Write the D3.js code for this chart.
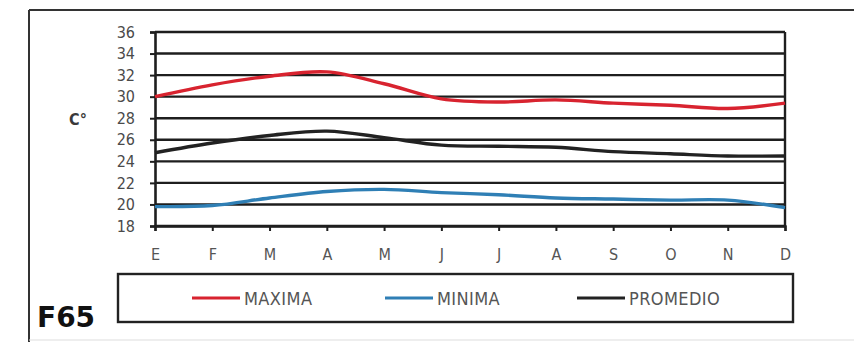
<!DOCTYPE html>
<html><head><meta charset="utf-8">
<script src="https://cdn.jsdelivr.net/npm/d3@7/dist/d3.min.js"></script>
<style>body{margin:0;background:#fff}svg{display:block}</style>
</head><body>
<svg id="c" width="854" height="342"></svg>
<script>
const months = ["E","F","M","A","M","J","J","A","S","O","N","D"];
const maxima = [30.0, 31.1, 31.9, 32.3, 31.2, 29.8, 29.5, 29.7, 29.4, 29.2, 28.9, 29.4];
const minima = [19.8, 19.9, 20.6, 21.2, 21.4, 21.1, 20.9, 20.6, 20.5, 20.4, 20.4, 19.7];
const promedio = [24.8, 25.7, 26.4, 26.8, 26.2, 25.5, 25.4, 25.3, 24.9, 24.7, 24.5, 24.5];
const yTicks = [18,20,22,24,26,28,30,32,34,36];
const seriesNames = ["MAXIMA","MINIMA","PROMEDIO"];
const seriesColors = ["#d8232f","#2f7fb5","#222222"];

const svg = d3.select("#c");
const font = "'DejaVu Sans Condensed','DejaVu Sans',sans-serif";
// outer frame
svg.append("line").attr("x1",29).attr("x2",854).attr("y1",10).attr("y2",10).attr("stroke","#333").attr("stroke-width",2);
svg.append("line").attr("x1",29).attr("x2",29).attr("y1",10).attr("y2",342).attr("stroke","#333").attr("stroke-width",2);
svg.append("line").attr("x1",29).attr("x2",854).attr("y1",340).attr("y2",340).attr("stroke","#ddd").attr("stroke-width",1);

const L=155, R=785, T=32, B=226;
const x = d3.scalePoint().domain(d3.range(12)).range([L,R]);
const y = d3.scaleLinear().domain([18,36]).range([B,T]);

// gridlines
svg.append("g").selectAll("line").data(yTicks).join("line")
  .attr("x1",L).attr("x2",R).attr("y1",d=>y(d)).attr("y2",d=>y(d))
  .attr("stroke","#1e1e1e").attr("stroke-width",2.4);
// right border
svg.append("line").attr("x1",R).attr("x2",R).attr("y1",T).attr("y2",B).attr("stroke","#1e1e1e").attr("stroke-width",2.4);

// y axis
const ya = svg.append("g").attr("transform",`translate(${L},0)`)
  .call(d3.axisLeft(y).tickValues(yTicks).tickSize(5).tickPadding(15));
ya.select(".domain").attr("stroke","#1e1e1e").attr("stroke-width",2.6);
ya.selectAll(".tick line").attr("stroke","#1e1e1e").attr("stroke-width",2);
ya.selectAll("text").attr("font-family",font).attr("font-size",16).attr("fill","#4a4a4a");

// x axis
const xa = svg.append("g").attr("transform",`translate(0,${B})`)
  .call(d3.axisBottom(x).tickFormat(i=>months[i]).tickSize(5).tickPadding(18));
xa.select(".domain").attr("stroke","#1e1e1e").attr("stroke-width",2.4);
xa.selectAll(".tick line").attr("stroke","#1e1e1e").attr("stroke-width",2);
xa.selectAll("text").attr("font-family",font).attr("font-size",16).attr("fill","#555");

// y label
svg.append("text").attr("x",78).attr("y",125).attr("text-anchor","middle")
  .attr("font-family",font).attr("font-weight","bold").attr("font-size",16).attr("fill","#3a3a3a").text("C°");

// lines
const line = d3.line().x((d,i)=>x(i)).y(d=>y(d)).curve(d3.curveCatmullRom.alpha(0.5));
[maxima,minima,promedio].forEach((s,k)=>{
  svg.append("path").attr("d",line(s)).attr("fill","none")
    .attr("stroke",seriesColors[k]).attr("stroke-width",3.4).attr("stroke-linejoin","round");
});

// legend
svg.append("rect").attr("x",118).attr("y",274).attr("width",675).attr("height",48)
  .attr("fill","#fff").attr("stroke","#222").attr("stroke-width",2.4);
const lx = [192,385,577];
seriesNames.forEach((n,k)=>{
  svg.append("line").attr("x1",lx[k]).attr("x2",lx[k]+48).attr("y1",298).attr("y2",298)
    .attr("stroke",seriesColors[k]).attr("stroke-width",3);
  svg.append("text").attr("x",lx[k]+52).attr("y",305).attr("font-family",font).attr("font-size",18)
    .attr("letter-spacing",0.4).attr("fill","#555").text(n);
});

// F65
svg.append("text").attr("x",37).attr("y",327).attr("font-family","'DejaVu Sans',sans-serif")
  .attr("font-weight","bold").attr("font-size",28).attr("fill","#111").text("F65");
</script>
</body></html>
